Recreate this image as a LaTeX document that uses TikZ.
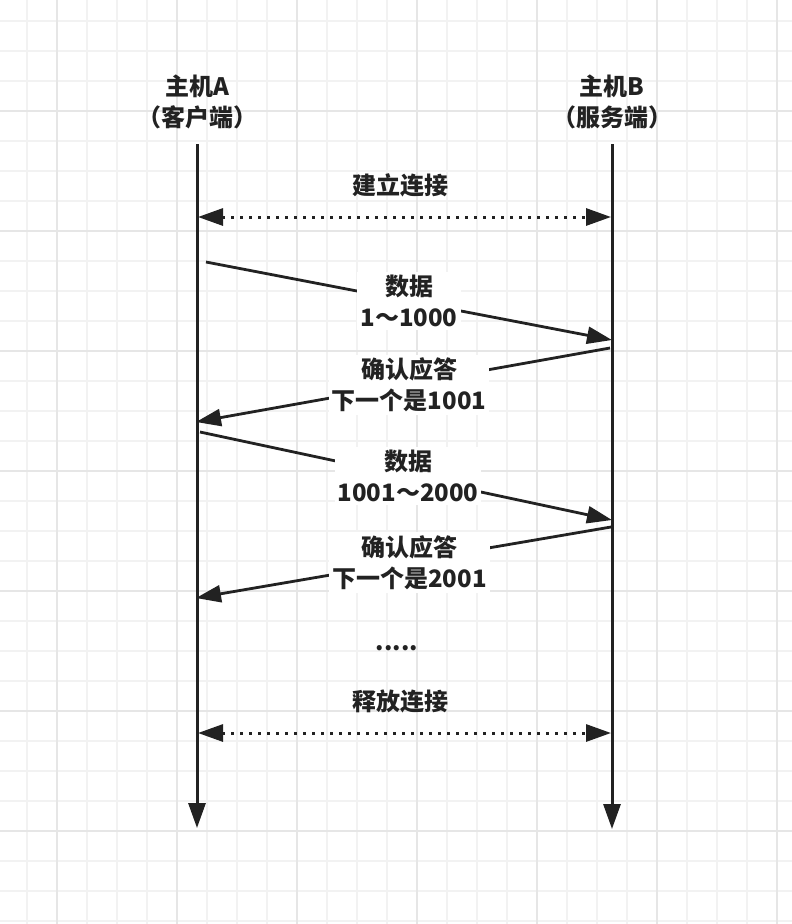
\documentclass[tikz,border=0pt]{standalone}
\usepackage{fontspec}
\newfontfamily\cjk{Noto Sans CJK SC}
\usepackage{tikz}
\usetikzlibrary{arrows.meta}
\usetikzlibrary{positioning}

\definecolor{ink}{HTML}{222222}
\definecolor{gridminor}{HTML}{F2F2F2}
\definecolor{gridmajor}{HTML}{E6E6E6}
\tikzset{
  minorline/.style={gridminor,line width=1.2pt},
  majorline/.style={gridmajor,line width=1.5pt},
  lifeline/.style={ink,line width=3pt,->},
  msg/.style={ink,line width=2.8pt,->},
  conn/.style={ink,line width=3pt,<->,dash pattern=on 3pt off 6pt},
  tag/.style={text=ink,align=center,inner sep=3pt},
  msgtag/.style={tag,fill=white,midway}
}

\begin{document}
\begin{tikzpicture}[x=1pt,y=-1pt,>={Triangle[length=25pt,width=17pt]},
  font=\cjk\bfseries\fontsize{24}{31}\selectfont]
  \fill[white] (0,0) rectangle (792,924);
  \useasboundingbox (0,0) rectangle (792,924);
  \foreach \x in {27,57,...,777} \draw[minorline] (\x,0) -- (\x,924);
  \foreach \y in {21,51,...,921} \draw[minorline] (0,\y) -- (792,\y);
  \foreach \x in {57,177,...,777} \draw[majorline] (\x,0) -- (\x,924);
  \foreach \y in {111,231,...,831} \draw[majorline] (0,\y) -- (792,\y);

  \node[tag] (hostA) at (197,102) {主机A\\（客户端）};
  \node[tag] (hostB) at (612,102) {主机B\\（服务端）};
  \coordinate (A0) at (197,144);
  \coordinate (A1) at (197,828);
  \coordinate (B0) at (612,144);
  \coordinate (B1) at (612,829);
  \draw[lifeline] (A0) -- (A1);
  \draw[lifeline] (B0) -- (B1);

  \coordinate (openA) at (198,217);
  \coordinate (openB) at (611,217);
  \node[tag] (open) at (400,185) {建立连接};
  \draw[conn] (openA) -- (openB);

  \coordinate (d1s) at (206,262);
  \coordinate (d1e) at (612,340);
  \draw[msg] (d1s) -- (d1e) node[msgtag] (data1) {数据\\1～1000};
  \coordinate (k1s) at (610,348);
  \coordinate (k1e) at (196,422);
  \draw[msg] (k1s) -- (k1e) node[msgtag,xshift=6pt] (ack1) {确认应答\\下一个是1001};
  \coordinate (d2s) at (200,432);
  \coordinate (d2e) at (612,520);
  \draw[msg] (d2s) -- (d2e) node[msgtag,xshift=2pt] (data2) {数据\\1001～2000};
  \coordinate (k2s) at (611,527);
  \coordinate (k2e) at (196,598);
  \draw[msg] (k2s) -- (k2e) node[msgtag,xshift=6pt] (ack2) {确认应答\\下一个是2001};

  \node[tag] (more) at (397,648) {.....};

  \coordinate (closeA) at (198,733);
  \coordinate (closeB) at (611,733);
  \node[tag] (close) at (400,701) {释放连接};
  \draw[conn] (closeA) -- (closeB);
\end{tikzpicture}
\end{document}
